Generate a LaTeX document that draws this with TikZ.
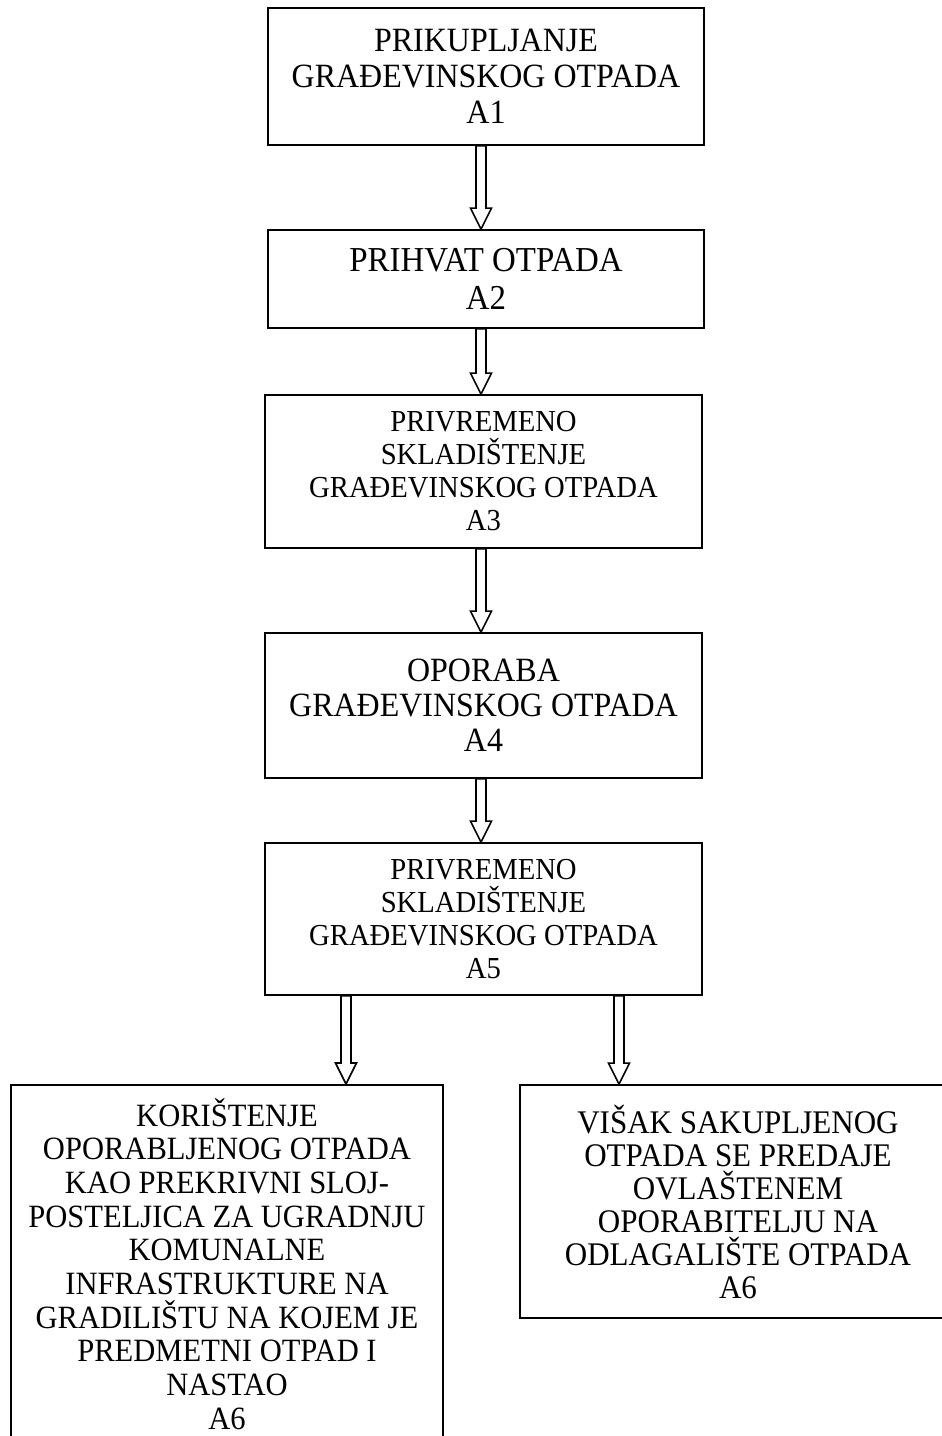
\documentclass[tikz,border=0pt]{standalone}
\usepackage{fontspec}
\setmainfont[FakeStretch=0.94]{Liberation Serif}
\usetikzlibrary{calc}
\tikzset{
  box/.style={draw, line width=1.8pt, rectangle, align=center, inner sep=0pt, fill=white},
  harr/.style={draw, line width=1.6pt, fill=white, line join=miter},
  fs/.style 2 args={font=\fontsize{#1pt}{#2pt}\selectfont}
}
\newcommand{\hollowarrow}[2]{%
  \path[harr] let \p1=(#1), \p2=(#2) in
    (\x1-5pt,\y1) -- (\x1-5pt,\y2+21pt) -- (\x1-10.5pt,\y2+21pt) -- (\x1,\y2)
    -- (\x1+10.5pt,\y2+21pt) -- (\x1+5pt,\y2+21pt) -- (\x1+5pt,\y1) -- cycle;}
\begin{document}
\begin{tikzpicture}[x=1pt,y=-1pt]
\useasboundingbox[fill=white] (0,0) rectangle (942,1436);

\node[box, fs={34}{36}, minimum width=436pt, minimum height=137pt] (a1) at (486,76.5)
  {PRIKUPLJANJE\\GRAĐEVINSKOG OTPADA\\A1};
\node[box, fs={35}{38}, minimum width=436pt, minimum height=98pt] (a2) at (486,279)
  {PRIHVAT OTPADA\\A2};
\node[box, fs={30.5}{33}, minimum width=437pt, minimum height=153pt] (a3) at (483.5,471.5)
  {PRIVREMENO\\SKLADIŠTENJE\\GRAĐEVINSKOG OTPADA\\A3};
\node[box, fs={34}{35}, minimum width=437pt, minimum height=145pt] (a4) at (483.5,705.5)
  {OPORABA\\GRAĐEVINSKOG OTPADA\\A4};
\node[box, fs={30.5}{33}, minimum width=437pt, minimum height=152pt] (a5) at (483.5,919)
  {PRIVREMENO\\SKLADIŠTENJE\\GRAĐEVINSKOG OTPADA\\A5};
\node[box, fs={32.5}{33.7}, minimum width=432pt, minimum height=358pt, anchor=north] (b1) at (227,1084)
  {KORIŠTENJE\\OPORABLJENOG OTPADA\\KAO PREKRIVNI SLOJ-\\POSTELJICA ZA UGRADNJU\\KOMUNALNE\\INFRASTRUKTURE NA\\GRADILIŠTU NA KOJEM JE\\PREDMETNI OTPAD I\\NASTAO\\A6};
\node[box, fs={33}{33}, minimum width=436pt, minimum height=233pt] (b2) at (738,1201.5)
  {VIŠAK SAKUPLJENOG\\OTPADA SE PREDAJE\\OVLAŠTENEM\\OPORABITELJU NA\\ODLAGALIŠTE OTPADA\\A6};

\coordinate (xl) at (346,0);
\coordinate (xr) at (619,0);
\coordinate (xm) at (481,0);

\hollowarrow{a1.south -| xm}{a2.north -| xm}
\hollowarrow{a2.south -| xm}{a3.north -| xm}
\hollowarrow{a3.south -| xm}{a4.north -| xm}
\hollowarrow{a4.south -| xm}{a5.north -| xm}
\hollowarrow{a5.south -| xl}{b1.north -| xl}
\hollowarrow{a5.south -| xr}{b2.north -| xr}
\end{tikzpicture}
\end{document}
